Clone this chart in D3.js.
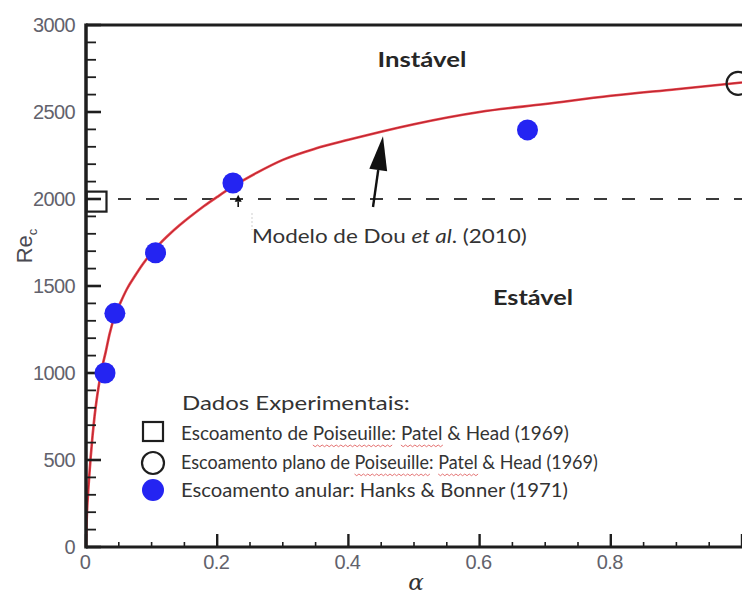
<!DOCTYPE html>
<html><head><meta charset="utf-8">
<script src="https://cdn.jsdelivr.net/npm/d3@7"></script>
<style>html,body{margin:0;padding:0;background:#fff;overflow:hidden}</style>
</head><body>
<svg id="c" width="742" height="597"></svg>
<script>
// ---- data ----
const modelAlpha = [0, 0.001, 0.003, 0.005, 0.007, 0.010, 0.013, 0.016, 0.020, 0.025, 0.030, 0.036, 0.044, 0.052, 0.062, 0.075, 0.087, 0.100, 0.113, 0.128, 0.143, 0.160, 0.180, 0.200, 0.224, 0.260, 0.300, 0.350, 0.400, 0.500, 0.600, 0.700, 0.800, 0.900, 1.000];
const modelRe    = [0, 150, 300, 410, 510, 640, 750, 840, 940, 1040, 1120, 1225, 1330, 1400, 1480, 1560, 1628, 1690, 1745, 1800, 1850, 1902, 1960, 2012, 2072, 2150, 2225, 2290, 2340, 2430, 2500, 2546, 2593, 2631, 2670];
const annularAlpha = [0.029, 0.044, 0.106, 0.224, 0.673];
const annularRe    = [1000, 1343, 1691, 2092, 2397];
const poiseuilleAlpha = [0.016];
const poiseuilleRe    = [1985];
const planeAlpha = [0.994];
const planeRe    = [2665];
const critRe = 2000;
const xTicks = [0, 0.2, 0.4, 0.6, 0.8];
const yTicks = [0, 500, 1000, 1500, 2000, 2500, 3000];
const legendHeader = "Dados Experimentais:";
const legendLabels = [
  ["Escoamento de ", "Poiseuille:", " ", "Patel", " & Head (1969)"],
  ["Escoamento plano de ", "Poiseuille:", " ", "Patel", " & Head (1969)"],
  ["Escoamento anular: Hanks & Bonner (1971)"]
];
// annotation anchor points (data units)
const bigArrow = {from: [0.4375, 1954], to: [0.4527, 2360]};
const smallArrow = {from: [0.232, 1954], to: [0.232, 2025]};

// ---- layout ----
const svg = d3.select("#c");
const x = d3.scaleLinear().domain([0, 1]).range([86, 742]);
const y = d3.scaleLinear().domain([0, 3000]).range([547, 25]);
const ink = "#1e1e1e", tickCol = "#62626c";
const txtFont = "Lato, 'Open Sans', sans-serif";

// horizontally-squeezed text group (to mimic a narrow font)
function squeezed(x0, y0, width, anchor) {
  const gg = svg.append("g");
  const t = gg.append("text").attr("x", 0).attr("y", 0);
  return {g: gg, t: t, finish() {
    const w = t.node().getComputedTextLength();
    const s = width / w;
    const left = anchor === "middle" ? x0 - width / 2 : x0;
    gg.attr("transform", `translate(${left},${y0}) scale(${s},1)`);
  }};
}

// dashed critical line
svg.append("line").attr("x1", 118).attr("x2", 742)
  .attr("y1", y(critRe)).attr("y2", y(critRe))
  .attr("stroke", "#3a3a3a").attr("stroke-width", 2).attr("stroke-dasharray", "13,15");

// model curve
const line = d3.line().x(d => x(d[0])).y(d => y(d[1])).curve(d3.curveMonotoneX);
const model = modelAlpha.map((a, i) => [a, modelRe[i]]);
svg.append("path").attr("d", line(model)).attr("fill", "none")
  .attr("stroke", "#e8454d").attr("stroke-width", 2.6);
svg.append("path").attr("d", line(model)).attr("fill", "none")
  .attr("stroke", "#b0202a").attr("stroke-width", 0.9);

// axes frame
const g = svg.append("g");
const yMinor = d3.range(0, 3001, 100);
g.selectAll(".ym").data(yMinor).join("line")
  .attr("x1", x(0)).attr("x2", d => x(0) + (d % 500 === 0 ? 15 : 10))
  .attr("y1", d => y(d)).attr("y2", d => y(d))
  .attr("stroke", ink).attr("stroke-width", d => d % 500 === 0 ? 2.6 : 1.8);
const xMinor = d3.range(0, 21).map(i => i * 0.05);
g.selectAll(".xm").data(xMinor).join("line")
  .attr("x1", d => x(d)).attr("x2", d => x(d))
  .attr("y1", y(0)).attr("y2", (d, i) => y(0) - (i % 4 === 0 ? 13 : 5))
  .attr("stroke", ink).attr("stroke-width", (d, i) => i % 4 === 0 ? 2.4 : 1.6);
g.append("line").attr("x1", x(0)).attr("x2", x(0)).attr("y1", y(3000) - 1.5).attr("y2", y(0) + 1.5)
  .attr("stroke", ink).attr("stroke-width", 3.5);
g.append("line").attr("x1", x(0)).attr("x2", 742).attr("y1", y(0)).attr("y2", y(0))
  .attr("stroke", ink).attr("stroke-width", 3);
g.append("line").attr("x1", x(0)).attr("x2", 742).attr("y1", y(3000)).attr("y2", y(3000))
  .attr("stroke", ink).attr("stroke-width", 3);

// tick labels
svg.selectAll(".yl").data(yTicks).join("text")
  .attr("x", x(0) - 11).attr("y", d => y(d) + 7)
  .attr("text-anchor", "end").attr("font-family", "Liberation Sans, Arial, sans-serif")
  .attr("font-size", 20).attr("letter-spacing", -0.6).attr("fill", tickCol).text(d => d);
svg.selectAll(".xl").data(xTicks).join("text")
  .attr("x", d => x(d) - 1).attr("y", 569)
  .attr("text-anchor", "middle").attr("font-family", "Liberation Sans, Arial, sans-serif")
  .attr("font-size", 20).attr("letter-spacing", -0.6).attr("fill", tickCol).text(d => d);

// axis titles
const ylab = svg.append("text").attr("transform", "translate(32,246) rotate(-90)")
  .attr("text-anchor", "middle").attr("font-family", "Liberation Sans, Arial, sans-serif")
  .attr("font-size", 22).attr("fill", "#4a4a52");
ylab.append("tspan").text("Re");
ylab.append("tspan").attr("font-size", 13).attr("dy", 5).text("c");
svg.append("text").attr("x", 416).attr("y", 590).attr("text-anchor", "middle")
  .attr("font-family", "DejaVu Serif, serif").attr("font-style", "italic")
  .attr("font-size", 23).attr("fill", "#333").text("α");

// markers
svg.selectAll(".sq").data(poiseuilleAlpha).join("rect")
  .attr("x", d => x(d) - 10).attr("y", (d, i) => y(poiseuilleRe[i]) - 10)
  .attr("width", 20).attr("height", 20).attr("fill", "none")
  .attr("stroke", ink).attr("stroke-width", 2.2);
svg.selectAll(".pc").data(planeAlpha).join("circle")
  .attr("cx", d => x(d)).attr("cy", (d, i) => y(planeRe[i])).attr("r", 11.5)
  .attr("fill", "none").attr("stroke", ink).attr("stroke-width", 2.2);
svg.selectAll(".an").data(annularAlpha).join("circle")
  .attr("cx", d => x(d)).attr("cy", (d, i) => y(annularRe[i])).attr("r", 10.5)
  .attr("fill", "#2424f2");

// arrows
function arrow(a, headLen, headW, sw) {
  const x0 = x(a.from[0]), y0 = y(a.from[1]), x1 = x(a.to[0]), y1 = y(a.to[1]);
  const ang = Math.atan2(y1 - y0, x1 - x0);
  const bx = x1 - headLen * Math.cos(ang), by = y1 - headLen * Math.sin(ang);
  svg.append("line").attr("x1", x0).attr("y1", y0).attr("x2", bx).attr("y2", by)
    .attr("stroke", "#111").attr("stroke-width", sw);
  const px = -Math.sin(ang) * headW / 2, py = Math.cos(ang) * headW / 2;
  svg.append("path").attr("d", `M${x1},${y1}L${bx + px},${by + py}L${bx - px},${by - py}Z`).attr("fill", "#111");
}
arrow(bigArrow, 34, 18, 2.4);
arrow(smallArrow, 7, 7, 1.6);
svg.append("line").attr("x1", 252).attr("x2", 252).attr("y1", 213).attr("y2", 230)
  .attr("stroke", "#cfcfcf").attr("stroke-width", 1).attr("stroke-dasharray", "2,2");

// region labels
function label(txt, x0, y0, w, fs, bold, anchor) {
  const s = squeezed(x0, y0, w, anchor);
  s.t.attr("font-family", txtFont).attr("font-size", fs).attr("fill", "#262626")
    .attr("font-weight", bold ? "bold" : "normal").text(txt);
  s.finish();
  return s;
}
label("Instável", 422, 67, 89, 20.5, true, "middle");
label("Estável", 533, 305, 80, 20.5, true, "middle");

// model label
const ml = squeezed(252, 243, 275, "start");
ml.t.attr("font-family", txtFont).attr("font-size", 19).attr("fill", "#333");
ml.t.append("tspan").text("Modelo de Dou ");
ml.t.append("tspan").attr("font-style", "italic").text("et al");
ml.t.append("tspan").text(". (2010)");
ml.finish();

// legend
const hd = squeezed(182, 410, 228, "start");
hd.t.attr("font-family", txtFont).attr("font-size", 20).attr("fill", "#333").text(legendHeader);
hd.finish();
const legY = [440, 469, 497];
const legW = [388, 417, 387];
legendLabels.forEach((parts, i) => {
  const s = squeezed(181, legY[i], legW[i], "start");
  s.t.attr("font-family", txtFont).attr("font-size", 19.5).attr("fill", "#333");
  const spans = parts.map(p => s.t.append("tspan").text(p));
  s.finish();
  spans.forEach(sp => {
    const w = sp.text();
    if (w === "Poiseuille:" || w === "Patel") {
      const bb = sp.node().getBBox();
      const x0 = bb.x, x1 = bb.x + bb.width - (w === "Poiseuille:" ? 5 : 0);
      const yy = 5;
      let d = `M${x0},${yy}`;
      for (let xx = x0, k = 0; xx < x1; xx += 2.4, k++) d += `L${xx + 2.4},${yy + (k % 2 ? 0 : 1.7)}`;
      s.g.append("path").attr("d", d).attr("fill", "none").attr("stroke", "#e06060").attr("stroke-width", 0.9);
    }
  });
});
svg.append("rect").attr("x", 143).attr("y", legY[0] - 18).attr("width", 20).attr("height", 19)
  .attr("fill", "none").attr("stroke", ink).attr("stroke-width", 2.2);
svg.append("circle").attr("cx", 153).attr("cy", legY[1] - 6).attr("r", 11)
  .attr("fill", "none").attr("stroke", ink).attr("stroke-width", 2.2);
svg.append("circle").attr("cx", 153).attr("cy", legY[2] - 7).attr("r", 11)
  .attr("fill", "#2424f2");
</script>
</body></html>
